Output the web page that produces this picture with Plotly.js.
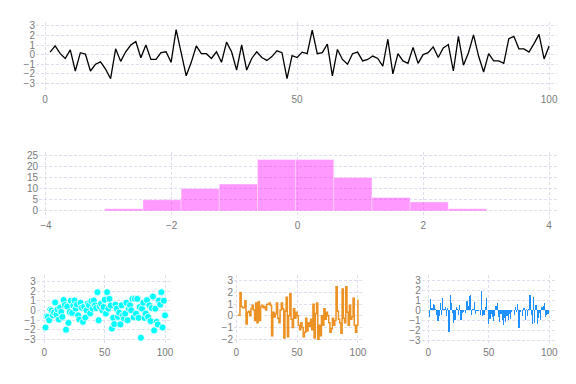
<!DOCTYPE html>
<html>
<head>
<meta charset="utf-8">
<script src="https://cdn.plot.ly/plotly-3.0.1.min.js"></script>
<style>html,body{margin:0;padding:0;background:#fff;}#chart{width:576px;height:384px;}</style>
</head>
<body>
<div id="chart"></div>
<script>
// ---- data ----
const lineX = Array.from({length: 100}, (_, i) => i + 1);
const lineY = [0.26,0.9,0.1,-0.4,0.5,-1.7,0.2,0.05,-1.7,-1.0,
  -0.75,-1.5,-2.5,0.6,-0.7,0.3,1.0,1.35,-0.33,1.0,
  -0.5,-0.5,0.2,0.3,-0.8,2.6,0.2,-2.2,-0.8,0.9,
  0.1,0.1,-0.4,0.3,-0.8,1.3,0.3,-1.6,1.0,-1.6,
  -0.4,0.3,-0.3,-0.6,-0.2,0.4,0.2,-2.5,-0.1,-0.3,
  0.26,0.1,2.55,0.1,0.2,1.1,-2.2,0.54,-0.5,-1.0,
  0.1,0.26,-0.65,-0.5,-0.15,-0.4,-1.2,1.6,-2.0,0.1,
  -0.65,-0.9,0.75,-0.9,0.0,0.2,0.8,-0.3,0.7,1.05,
  -1.7,1.9,-1.1,0.2,2.05,-0.15,-1.8,0.1,-0.65,-0.65,
  -0.9,1.65,1.9,0.6,0.6,0.26,1.15,2.1,-0.45,0.9];

const histEdges = [-3.064,-2.457,-1.851,-1.244,-0.637,-0.031,0.576,1.183,1.789,2.396,3.003];
const histCounts = [1,5,10,12,23,23,15,6,4,1];

const scatterX = Array.from({length: 100}, (_, i) => i + 1);
const scatterY = [-1.75,-0.6,-0.66,-1.0,0.1,0.0,-0.5,-0.2,0.83,-0.4,
  0.1,-0.93,0.3,-0.15,-0.66,1.07,0.56,-1.98,0.4,-1.27,
  -0.15,1.0,-0.25,0.5,1.03,0.2,0.62,-0.5,-0.93,0.8,
  0.29,-1.17,0.39,-0.73,0.02,0.7,0.53,-0.3,0.97,0.19,
  1.03,0.53,0.25,1.88,-1.0,0.4,0.7,0.02,0.36,1.1,
  -0.32,1.88,0.19,1.2,0.5,-1.85,-0.76,-1.4,0.6,0.19,
  -0.66,-0.22,-1.43,0.53,-0.5,-0.83,-0.32,0.8,-1.0,0.19,
  0.53,0.02,1.2,-0.7,1.2,-0.32,1.2,-0.76,0.36,-2.8,
  0.19,0.8,-0.76,-0.32,1.07,-0.66,0.53,-1.1,0.25,1.44,
  -2.05,0.19,-1.17,-1.43,1.03,0.6,1.88,-1.75,1.0,-0.5];

const stepX = Array.from({length: 100}, (_, i) => i + 1);
const stepY = [0.05,0.05,2.0,0.8,0.7,0.7,1.3,-0.7,0.3,0.4,
  0.0,0.6,0.9,0.5,-0.4,1.1,-0.6,1.2,-0.4,0.8,
  0.9,0.7,0.8,0.5,1.0,1.0,1.1,0.9,-1.7,0.3,
  -0.1,0.2,1.1,-0.2,-0.6,0.5,1.1,0.6,-1.9,0.4,
  1.6,-1.8,0.0,1.9,-0.3,-1.0,0.6,-0.2,0.3,0.0,
  -0.8,-1.2,-0.6,-1.0,-1.8,-1.4,-0.2,-1.3,-0.6,-0.9,
  -0.3,-1.2,1.0,-1.9,0.2,1.1,-2.0,-0.8,-1.7,0.0,
  -0.8,0.6,-0.3,0.3,0.0,-0.6,-1.4,-1.1,-0.2,-0.8,
  -0.4,2.5,0.4,-0.3,-0.6,-1.5,2.3,-0.2,-0.6,2.5,
  0.3,-0.8,0.9,-0.3,-0.1,1.5,-0.8,-1.4,-0.8,1.4];

const barX = Array.from({length: 100}, (_, i) => i + 1);
const barY = [-0.7,1.2,0.3,0.7,0.6,0.2,-0.5,-1.1,-0.6,0.8,
  -0.5,1.3,0.2,0.4,-0.6,0.3,-2.2,1.6,0.8,-0.3,
  -1.3,-1.0,0.4,0.2,-0.5,0.6,-1.0,-0.3,-0.2,0.1,
  -0.3,1.0,0.5,1.5,1.6,-0.5,0.2,0.9,-0.4,-0.1,
  -0.1,0.1,-0.5,2.0,-0.6,-0.5,0.4,1.3,0.0,-1.4,
  -0.9,-0.4,-0.7,-1.1,-0.6,0.5,0.8,-0.7,-1.2,-0.4,
  -1.0,-1.5,-0.8,-1.2,-0.6,-1.0,-0.4,-0.9,-0.2,0.1,
  -0.5,0.4,-0.2,0.7,-1.8,-0.2,0.1,-0.6,0.3,-1.0,
  0.2,-0.6,0.2,1.6,-0.5,-1.4,1.4,-1.3,0.6,-1.4,
  -0.8,-0.3,-1.0,0.4,0.5,0.8,-0.7,-0.5,-0.4,0.1];

// ---- derived for histogram bars ----
const histMid = histCounts.map((_, i) => (histEdges[i] + histEdges[i + 1]) / 2);
const histWidth = histCounts.map((_, i) => histEdges[i + 1] - histEdges[i]);

const W = 576, H = 384;
const dx = (a, b) => [a / W, b / W];
const dy = (top, bottom) => [1 - bottom / H, 1 - top / H];

const tickFont = {family: 'Liberation Sans, Arial, sans-serif', size: 10, color: '#7a7a7a'};
const gridCol = '#dedeec';
function ax(extra) {
  return Object.assign({
    showgrid: true, gridcolor: gridCol, griddash: '3px,2px', gridwidth: 1,
    zeroline: false, showline: false, ticks: '', tickfont: tickFont,
    fixedrange: true
  }, extra);
}

const traces = [
  {type: 'scatter', mode: 'lines', x: lineX, y: lineY, xaxis: 'x', yaxis: 'y',
   line: {color: '#000', width: 1.3}},
  {type: 'bar', x: histMid, y: histCounts, width: histWidth, xaxis: 'x2', yaxis: 'y2',
   marker: {color: 'rgba(255,0,255,0.4)', line: {color: 'rgba(255,255,255,0.6)', width: 0.6}}},
  {type: 'scatter', mode: 'markers', x: scatterX, y: scatterY, xaxis: 'x3', yaxis: 'y3',
   marker: {color: '#00ffff', size: 7, line: {color: '#fff', width: 0.8}}},
  {type: 'scatter', mode: 'lines', x: stepX, y: stepY, xaxis: 'x4', yaxis: 'y4',
   line: {color: 'rgb(236,146,36)', width: 1.5, shape: 'hv'}},
  {type: 'bar', x: barX, y: barY, xaxis: 'x5', yaxis: 'y5',
   marker: {color: '#1e90ff', line: {width: 0}}, width: 1}
];

const layout = {
  width: W, height: H,
  margin: {l: 0, r: 0, t: 0, b: 0},
  paper_bgcolor: '#fff', plot_bgcolor: '#fff',
  showlegend: false, bargap: 0,
  xaxis: ax({domain: dx(36, 556.7), range: [-1.8, 101.5], tickvals: [0, 50, 100], anchor: 'y'}),
  yaxis: ax({domain: dy(21.7, 91.7), range: [-3.85, 3.42], dtick: 1, anchor: 'x'}),
  xaxis2: ax({domain: dx(39, 556.7), range: [-4.11, 4.12], dtick: 2, anchor: 'y2'}),
  yaxis2: ax({domain: dy(151.7, 218.3), range: [-3.3, 26.5], dtick: 5, anchor: 'x2'}),
  xaxis3: ax({domain: dx(36.7, 170.7), range: [-6.3, 104.7], dtick: 50, anchor: 'y3'}),
  yaxis3: ax({domain: dy(275, 345), range: [-3.55, 3.65], dtick: 1, anchor: 'x3'}),
  xaxis4: ax({domain: dx(234, 364), range: [-1.9, 105], dtick: 50, anchor: 'y4'}),
  yaxis4: ax({domain: dy(275, 345), range: [-2.5, 3.5], dtick: 1, anchor: 'x4'}),
  xaxis5: ax({domain: dx(421.7, 555.7), range: [-5.5, 105.3], dtick: 50, anchor: 'y5'}),
  yaxis5: ax({domain: dy(275, 345), range: [-3.5, 3.6], dtick: 1, anchor: 'x5'})
};

Plotly.newPlot('chart', traces, layout, {displayModeBar: false, staticPlot: true});
</script>
</body>
</html>
